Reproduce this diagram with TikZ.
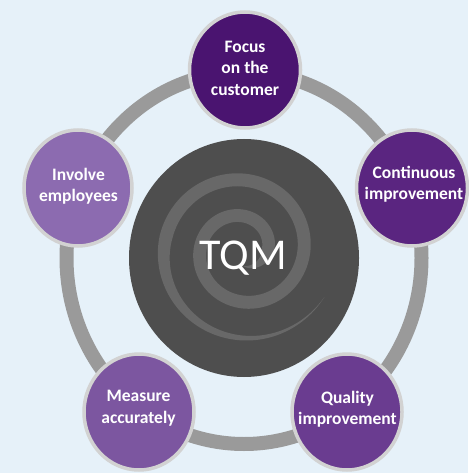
\documentclass[tikz,border=0pt]{standalone}
\usepackage{fontspec}
\setmainfont{Carlito}
\definecolor{bgblue}{HTML}{E6F1F9}
\definecolor{ringgray}{HTML}{9A9A9A}
\definecolor{rimgray}{HTML}{D2D2D2}
\definecolor{darkdisc}{HTML}{4E4E4E}
\definecolor{spiralgray}{HTML}{686868}
\definecolor{ctop}{HTML}{4A1470}
\definecolor{cright}{HTML}{5A2580}
\definecolor{cleft}{HTML}{8C6BB0}
\definecolor{cbl}{HTML}{7C56A0}
\definecolor{cbr}{HTML}{6A3C90}
\begin{document}
\begin{tikzpicture}[x=1pt,y=-1pt,
  ring/.style={draw=ringgray,line width=14pt},
  disc/.style={draw=rimgray,line width=3.5pt},
  lbl/.style={text=white,font=\bfseries\fontsize{17.5}{21.5}\selectfont,align=center,inner sep=0pt}]
\fill[bgblue] (0,0) rectangle (468,473);
\useasboundingbox (0,0) rectangle (468,473);
% ring
\draw[ring] (244,258) ellipse [x radius=177.5, y radius=186];
% central disc
\fill[darkdisc] (244,258) ellipse [x radius=115, y radius=119];
% spiral
\fill[spiralgray]
  plot[domain=-90:690, samples=240, smooth, variable=\t]
    ({243+(0.1*\t+25+6.5*min(1,(\t+90)/100,(690-\t)/160))*cos(\t)},
     {250-(0.1*\t+25+6.5*min(1,(\t+90)/100,(690-\t)/160))*sin(\t)})
  -- plot[domain=690:-90, samples=240, smooth, variable=\t]
    ({243+(0.1*\t+25-6.5*min(1,(\t+90)/100,(690-\t)/160))*cos(\t)},
     {250-(0.1*\t+25-6.5*min(1,(\t+90)/100,(690-\t)/160))*sin(\t)})
  -- cycle;
\node[text=white,font=\fontsize{44}{44}\selectfont,inner sep=0pt] (tqm) at (243,258) {TQM};
% outer discs
\filldraw[fill=ctop,disc] (245,70) ellipse [x radius=55.5, y radius=58];
\filldraw[fill=cright,disc] (412,188) ellipse [x radius=55.5, y radius=58];
\filldraw[fill=cleft,disc] (78,188) ellipse [x radius=54, y radius=58];
\filldraw[fill=cbl,disc] (139,412) ellipse [x radius=55, y radius=58];
\filldraw[fill=cbr,disc] (347,412) ellipse [x radius=55, y radius=58];
\node[lbl] (focus) at (245,68) {Focus\\on the\\customer};
\node[lbl] (cont) at (414,184) {Continuous\\improvement};
\node[lbl] (inv) at (78.5,186) {Involve\\employees};
\node[lbl] (meas) at (138.5,408) {Measure\\accurately};
\node[lbl] (qual) at (347.5,409) {Quality\\improvement};
\end{tikzpicture}
\end{document}
